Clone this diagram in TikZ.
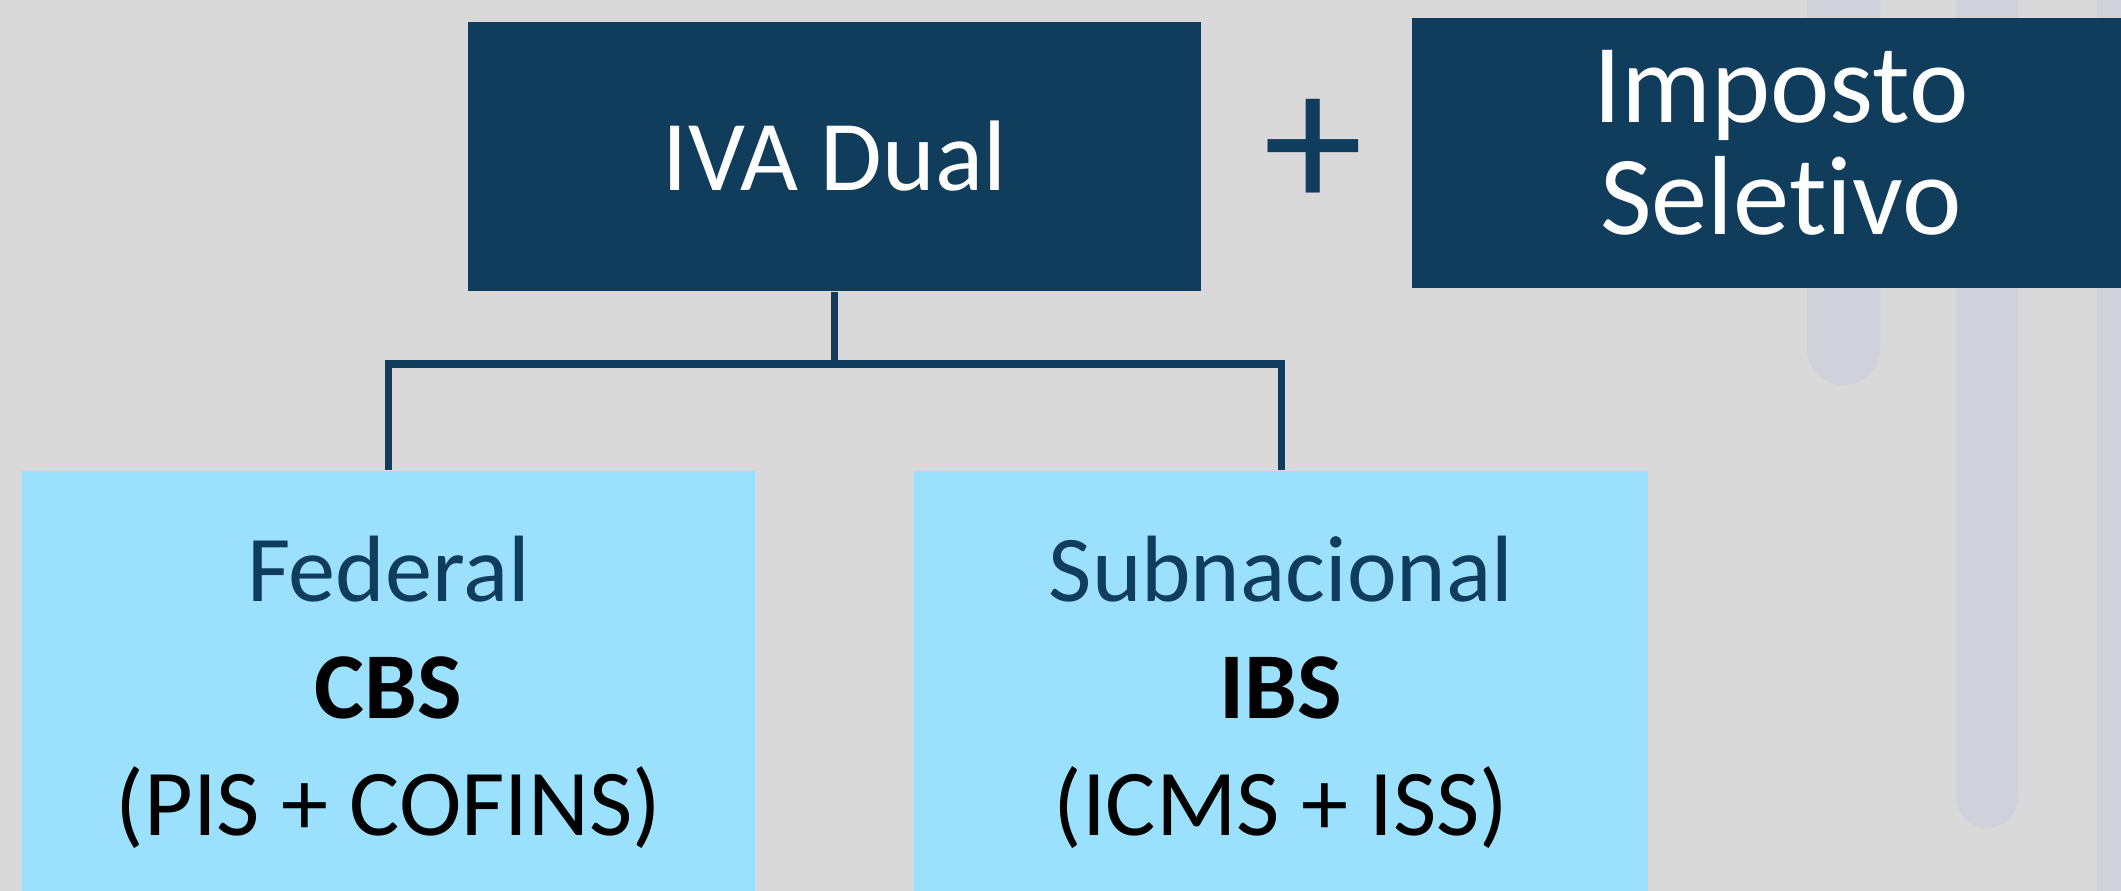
\documentclass[tikz,border=0pt]{standalone}
\usepackage{fontspec}
\setmainfont{Carlito}[Ligatures=NoCommon]
\usepackage{xcolor}
\definecolor{n1}{HTML}{113D5C}
\definecolor{c1}{HTML}{9BE1FE}
\definecolor{g1}{HTML}{D9D9D9}
\definecolor{g2}{HTML}{D0D1DA}

\tikzset{
	topbox/.style = {fill = n1, text = white, inner sep = 0pt, align = center},
	subbox/.style = {fill = c1, minimum width = 7.33cm, minimum height = 4.42cm, align = center,
		font = \fontsize{26.8}{33.3}\selectfont},
	link/.style = {n1, line width = 2pt},
}

\begin{document}
\begin{tikzpicture}[x=0.01cm,y=-0.01cm]
	\fill [g1] (0,0) rectangle (2121,891);
	\useasboundingbox (0,0) rectangle (2121,891);

	% pale bars in the back
	\fill [g2, rounded corners = 0.365cm] (1807,-60) rectangle (1880,385);
	\fill [g2, rounded corners = 0.31cm] (1956,-60) rectangle (2018,828);
	\fill [g2] (2097,-60) rectangle (2160,950);

	\node [topbox, minimum width = 7.33cm, minimum height = 2.69cm,
		font = \fontsize{28.5}{34}\selectfont] (iva) at (834.5,156.5) {IVA Dual};
	\node [n1, inner sep = 0pt, font = \fontsize{57}{57}\selectfont] (plus) at (1313,154) {+};
	\node [topbox, minimum width = 7.38cm, minimum height = 2.70cm] (sel) at (1781,153) {};
	\node [white, align = center, inner sep = 0pt,
		font = \fontsize{32}{31.9}\selectfont] (seltext) at (1781,143) {Imposto\\Seletivo};

	\node [subbox] (fed) at (388.5,692) {\textcolor{n1}{Federal}\\\textbf{CBS}\\(PIS + COFINS)};
	\node [subbox] (sub) at (1281,692) {\textcolor{n1}{Subnacional}\\\textbf{IBS}\\(ICMS + ISS)};

	\coordinate (bus) at (834.5,364);
	\draw [link] (iva.south) -- (iva.south |- bus);
	\draw [link] (fed.north) -- (fed.north |- bus) -- (sub.north |- bus) -- (sub.north);
\end{tikzpicture}
\end{document}
